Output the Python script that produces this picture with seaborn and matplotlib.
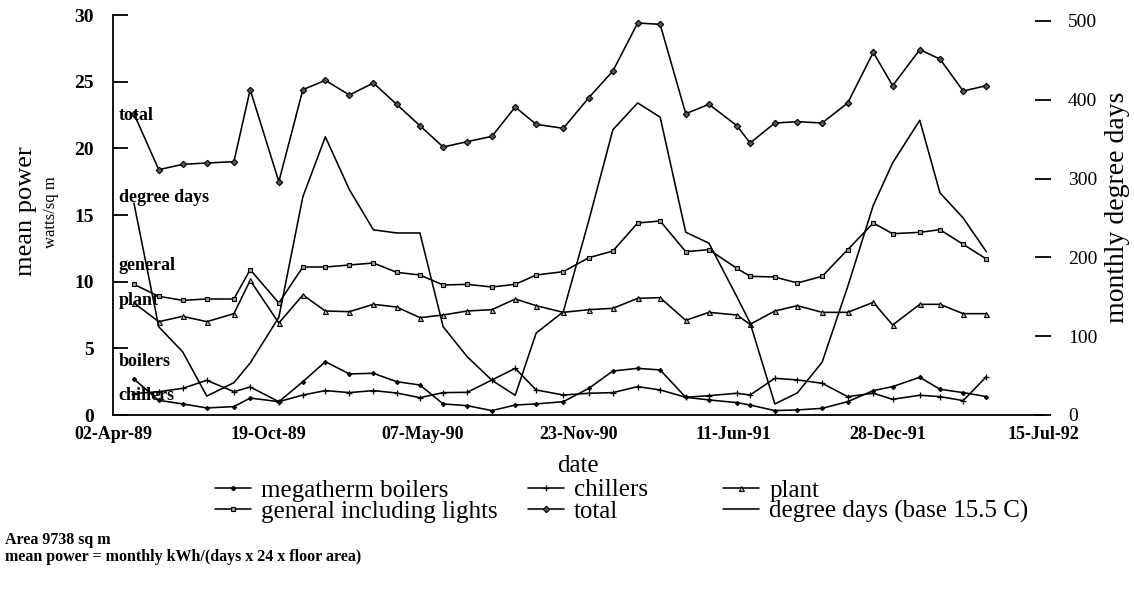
import matplotlib
matplotlib.use("Agg")
import matplotlib.pyplot as plt
import matplotlib.dates as mdates
import matplotlib.transforms as mtransforms
from matplotlib.lines import Line2D
import pandas as pd
import seaborn as sns

# ---------------- data ----------------
dates = ["29-Apr-89", "31-May-89", "01-Jul-89", "01-Aug-89", "05-Sep-89", "26-Sep-89",
         "02-Nov-89", "03-Dec-89", "01-Jan-90", "01-Feb-90", "04-Mar-90", "03-Apr-90",
         "03-May-90", "02-Jun-90", "03-Jul-90", "04-Aug-90", "03-Sep-90", "30-Sep-90",
         "04-Nov-90", "07-Dec-90", "07-Jan-91", "08-Feb-91", "09-Mar-91", "11-Apr-91",
         "11-May-91", "16-Jun-91", "03-Jul-91", "04-Aug-91", "02-Sep-91", "04-Oct-91",
         "06-Nov-91", "09-Dec-91", "03-Jan-92", "07-Feb-92", "04-Mar-92", "03-Apr-92",
         "03-May-92"]

boilers = [2.7, 1.1, 0.83, 0.53, 0.63, 1.27, 1.0, 2.5, 4.0, 3.08,
           3.13, 2.5, 2.25, 0.83, 0.7, 0.33, 0.75, 0.83, 1.0, 2.0,
           3.3, 3.5, 3.38, 1.33, 1.13, 0.93, 0.75, 0.33, 0.38, 0.5,
           1.0, 1.83, 2.13, 2.83, 1.93, 1.68, 1.38]

chillers = [1.6, 1.75, 2.0, 2.6, 1.75, 2.1, 1.0, 1.5, 1.83, 1.68,
            1.83, 1.65, 1.3, 1.68, 1.7, 2.63, 3.5, 1.88, 1.5, 1.63,
            1.68, 2.13, 1.88, 1.33, 1.45, 1.63, 1.5, 2.75, 2.63, 2.38,
            1.38, 1.63, 1.18, 1.48, 1.38, 1.08, 2.88]

plant = [8.4, 7.0, 7.4, 7.0, 7.6, 10.1, 6.9, 9.0, 7.8, 7.75,
         8.3, 8.1, 7.3, 7.5, 7.8, 7.9, 8.7, 8.2, 7.7, 7.9,
         8.0, 8.75, 8.8, 7.1, 7.7, 7.5, 6.8, 7.8, 8.2, 7.7,
         7.7, 8.45, 6.75, 8.3, 8.3, 7.6, 7.6]

general = [9.8, 8.9, 8.6, 8.7, 8.7, 10.9, 8.4, 11.1, 11.1, 11.25,
           11.4, 10.7, 10.5, 9.75, 9.8, 9.6, 9.8, 10.5, 10.75, 11.8,
           12.3, 14.4, 14.55, 12.25, 12.4, 11.0, 10.4, 10.35, 9.9, 10.4,
           12.4, 14.4, 13.6, 13.7, 13.9, 12.8, 11.7]

total = [22.6, 18.4, 18.8, 18.9, 19.0, 24.4, 17.5, 24.4, 25.1, 24.0,
         24.9, 23.3, 21.7, 20.1, 20.5, 20.9, 23.1, 21.8, 21.5, 23.8,
         25.8, 29.4, 29.3, 22.6, 23.3, 21.7, 20.4, 21.9, 22.0, 21.9,
         23.4, 27.2, 24.7, 27.4, 26.7, 24.3, 24.7]

degree_days = [269, 112, 80, 24, 41, 66, 124, 277, 353, 286,
               235, 231, 231, 112, 74, 44, 25, 104, 131, 247,
               362, 396, 378, 232, 218, 150, 117, 14, 28, 67,
               163, 266, 320, 374, 282, 250, 207]

series_names = ["megatherm boilers", "chillers", "plant",
                "general including lights", "total", "degree days (base 15.5 C)"]
inline_labels = ["total", "degree days", "general", "plant", "boilers", "chillers"]
inline_label_y = [22.5, 16.35, 11.2, 8.6, 4.05, 1.43]
left_ticks = [0, 5, 10, 15, 20, 25, 30]
right_ticks = [0, 100, 200, 300, 400, 500]
x_start, x_end = "02-Apr-89", "15-Jul-92"

# ---------------- styling ----------------
sns.set_theme(style="white")
plt.rcParams['font.family'] = ['Liberation Serif', 'DejaVu Serif']
plt.rcParams.update({'text.color': 'black', 'axes.labelcolor': 'black',
                     'xtick.color': 'black', 'ytick.color': 'black',
                     'axes.edgecolor': 'black'})

df = pd.DataFrame({
    "date": pd.to_datetime(dates, format="%d-%b-%y"),
    "boilers": boilers, "chillers": chillers, "plant": plant,
    "general": general, "total": total, "degree_days": degree_days,
})

W, H = 1134, 595
fig = plt.figure(figsize=(W / 100, H / 100), dpi=100)
ax = fig.add_axes([113 / W, 180 / H, 930 / W, 400 / H])
ax2 = ax.twinx()

styles = {
    "boilers":  dict(marker="D", markersize=2.2, markerfacecolor="black", markeredgecolor="black"),
    "chillers": dict(marker="+", markersize=4, markeredgewidth=0.9, markeredgecolor="black"),
    "plant":    dict(marker="^", markersize=3.6, markerfacecolor="#bbbbbb", markeredgecolor="black", markeredgewidth=0.8),
    "general":  dict(marker="s", markersize=3.3, markerfacecolor="#999999", markeredgecolor="black", markeredgewidth=0.8),
    "total":    dict(marker="D", markersize=3.3, markerfacecolor="#555555", markeredgecolor="black", markeredgewidth=0.8),
}
lw = 1.15
for key in ["boilers", "chillers", "plant", "general", "total"]:
    sns.lineplot(data=df, x="date", y=key, ax=ax, color="black", linewidth=lw,
                 legend=False, **styles[key])
sns.lineplot(data=df, x="date", y="degree_days", ax=ax2, color="black",
             linewidth=lw, legend=False)

# axes limits / ticks
x0 = pd.to_datetime(x_start, format="%d-%b-%y")
x1 = pd.to_datetime(x_end, format="%d-%b-%y")
ax.set_xlim(x0, x1)
xt = pd.date_range(x0, periods=7, freq="200D")
ax.set_xticks(xt)
ax.xaxis.set_major_formatter(mdates.DateFormatter("%d-%b-%y"))
ax.set_ylim(0, 30)
ax.set_yticks(left_ticks)
ax2.set_ylim(0, 507.6)
ax2.set_yticks(right_ticks)

for s in ["top", "right"]:
    ax.spines[s].set_visible(False)
for s in ["left", "bottom"]:
    ax.spines[s].set_linewidth(1.3)
for s in ax2.spines.values():
    s.set_visible(False)

ax.tick_params(axis="y", direction="in", length=11, width=1.3, pad=14,
               labelsize=14)
ax.tick_params(axis="x", direction="in", length=8, width=1.3, pad=8,
               labelsize=13)
for lab in ax.get_xticklabels() + ax.get_yticklabels():
    lab.set_fontweight("bold")
ax2.tick_params(axis="y", direction="inout", length=12, width=1.3, pad=12,
                labelsize=14)
ax.set_xlabel("")
ax.set_ylabel("")
ax2.set_ylabel("")

# axis titles
fig.text(26 / W, 1 - 211 / H, "mean power", rotation=90, ha="center", va="center", fontsize=19)
fig.text(51 / W, 1 - 212 / H, "watts/sq m", rotation=90, ha="center", va="center", fontsize=12)
fig.text(1118 / W, 1 - 207 / H, "monthly degree days", rotation=90, ha="center", va="center", fontsize=20)
fig.text(578 / W, 1 - 466 / H, "date", ha="center", va="center", fontsize=18)

# in-plot series labels
trans = mtransforms.blended_transform_factory(ax.transAxes, ax.transData)
for txt, yv in zip(inline_labels, inline_label_y):
    ax.text(0.006, yv, txt, transform=trans, ha="left", va="center",
            fontsize=13, fontweight="bold")

# legend (three columns)
def handle(key):
    if key is None:
        return Line2D([], [], color="black", linewidth=lw)
    return Line2D([], [], color="black", linewidth=lw, **styles[key])

cols = [
    (215, [("boilers", series_names[0]), ("general", series_names[3])]),
    (528, [("chillers", series_names[1]), ("total", series_names[4])]),
    (723, [("plant", series_names[2]), (None, series_names[5])]),
]
for xpix, entries in cols:
    fig.legend([handle(k) for k, _ in entries], [n for _, n in entries],
               loc="upper left", bbox_to_anchor=(xpix / W, 1 - 479 / H),
               frameon=False, fontsize=18, handlelength=1.45,
               handletextpad=0.4, labelspacing=-0.05, borderpad=0,
               borderaxespad=0)

# footnotes
fig.text(5 / W, 1 - 540 / H, "Area 9738 sq m", ha="left", va="center",
         fontsize=11.5, fontweight="bold")
fig.text(5 / W, 1 - 557 / H, "mean power = monthly kWh/(days x 24 x floor area)",
         ha="left", va="center", fontsize=11.5, fontweight="bold")

fig.savefig("out.png", dpi=100, facecolor="white")
